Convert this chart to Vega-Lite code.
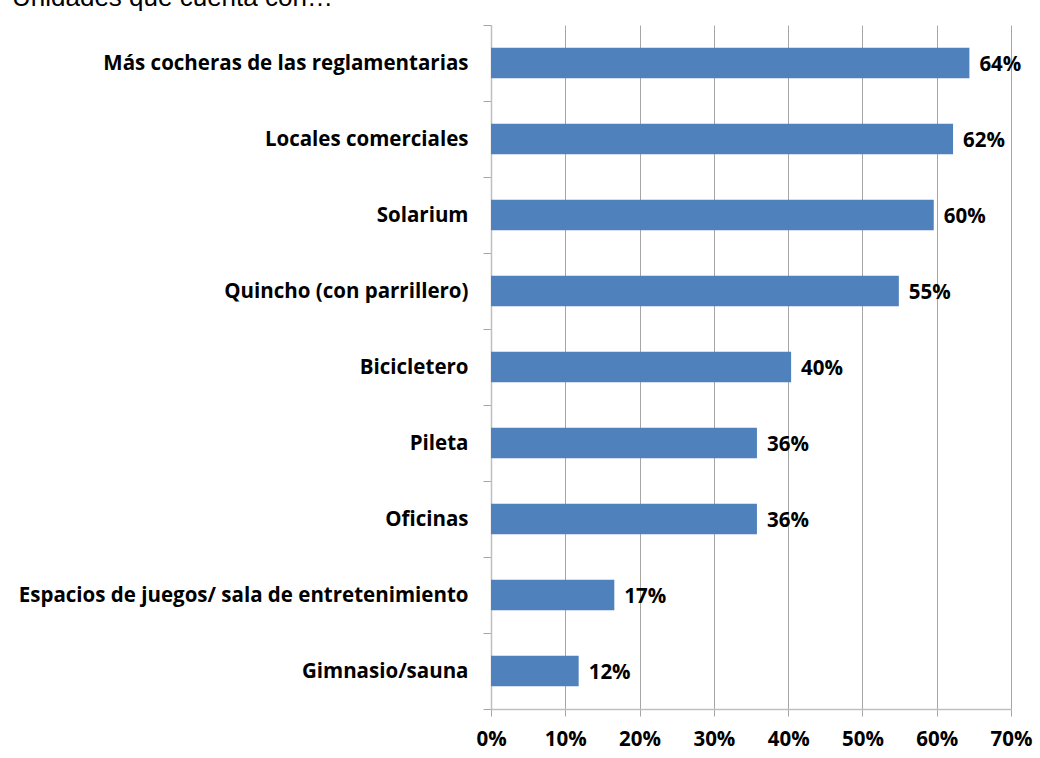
{
  "$schema": "https://vega.github.io/schema/vega-lite/v6.json",
  "width": 520,
  "height": 684,
  "autosize": {"type": "none"},
  "padding": {"left": 491, "top": 25, "right": 29, "bottom": 49},
  "background": "white",
  "title": {
    "text": "Unidades que cuenta con…",
    "anchor": "start",
    "frame": "group",
    "font": "Liberation Sans",
    "fontSize": 26,
    "fontWeight": "normal",
    "color": "black",
    "baseline": "alphabetic",
    "offset": 0,
    "dx": -479,
    "dy": 17
  },
  "data": {
    "values": [
      {"item": "Más cocheras de las reglamentarias", "pct": 0.644},
      {"item": "Locales comerciales", "pct": 0.622},
      {"item": "Solarium", "pct": 0.596},
      {"item": "Quincho (con parrillero)", "pct": 0.549},
      {"item": "Bicicletero", "pct": 0.404},
      {"item": "Pileta", "pct": 0.358},
      {"item": "Oficinas", "pct": 0.358},
      {"item": "Espacios de juegos/ sala de entretenimiento", "pct": 0.166},
      {"item": "Gimnasio/sauna", "pct": 0.118}
    ]
  },
  "encoding": {
    "y": {
      "field": "item",
      "type": "nominal",
      "sort": null,
      "title": null,
      "scale": {"paddingInner": 0, "paddingOuter": 0},
      "axis": {
        "labelFont": "Open Sans",
        "labelFontWeight": "bold",
        "labelFontSize": 20.5,
        "labelColor": "black",
        "labelPadding": 15,
        "labelLimit": 600,
        "tickSize": 8,
        "tickBand": "extent",
        "tickColor": "#a6a6a6",
        "domainColor": "#bfbfbf",
        "domainWidth": 1.5,
        "grid": false
      }
    },
    "x": {
      "field": "pct",
      "type": "quantitative",
      "title": null,
      "scale": {"domain": [0, 0.7]},
      "axis": {
        "values": [0, 0.1, 0.2, 0.3, 0.4, 0.5, 0.6, 0.7],
        "format": ".0%",
        "labelFont": "Open Sans",
        "labelFontWeight": "bold",
        "labelFontSize": 20.5,
        "labelColor": "black",
        "labelPadding": 13,
        "labelFlush": false,
        "tickSize": 7,
        "tickColor": "#a6a6a6",
        "domainColor": "#bfbfbf",
        "domainWidth": 1.5,
        "grid": true,
        "gridColor": "#a6a6a6"
      }
    }
  },
  "layer": [
    {"mark": {"type": "bar", "color": "#4F81BD", "height": {"band": 0.4}}},
    {
      "mark": {"type": "text", "align": "left", "baseline": "middle", "dx": 10, "dy": 2, "font": "Open Sans", "fontWeight": "bold", "fontSize": 20.5, "color": "black"},
      "encoding": {"text": {"field": "pct", "type": "quantitative", "format": ".0%"}}
    }
  ],
  "config": {"view": {"stroke": null}}
}
